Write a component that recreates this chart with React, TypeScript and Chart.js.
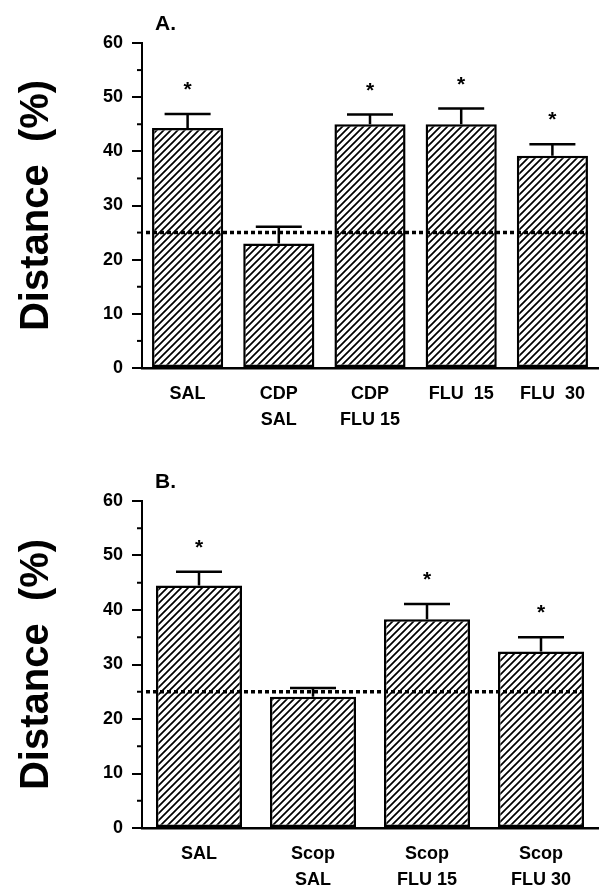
import React, { useEffect, useRef } from "react";
import { Chart, registerables } from "chart.js";

Chart.register(...registerables);

// ---- Data ----
const categoriesA: (string | string[])[] = ["SAL", ["CDP", "SAL"], ["CDP", "FLU 15"], "FLU  15", "FLU  30"];
const valuesA = [44.3, 23.0, 45.0, 45.0, 39.2];
const semA = [2.6, 3.1, 1.8, 2.9, 2.1];
const sigA = [true, false, true, true, true];

const categoriesB: (string | string[])[] = ["SAL", ["Scop", "SAL"], ["Scop", "FLU 15"], ["Scop", "FLU 30"]];
const valuesB = [44.5, 24.1, 38.3, 32.4];
const semB = [2.5, 1.6, 2.8, 2.6];
const sigB = [true, false, true, true];

const yTicks = [0, 10, 20, 30, 40, 50, 60];
const yMinorTicks = [5, 15, 25, 35, 45, 55];
const chanceLevel = 25;
const yTitle = "Distance  (%)";

const FONT = '"Liberation Sans", Arial, sans-serif';

function makeHatch(): CanvasPattern | string {
  const s = 7;
  const c = document.createElement("canvas");
  c.width = s;
  c.height = s;
  const g = c.getContext("2d");
  if (!g) return "#fff";
  g.fillStyle = "#fff";
  g.fillRect(0, 0, s, s);
  g.strokeStyle = "#000";
  g.lineWidth = 1.7;
  g.beginPath();
  g.moveTo(-1, s + 1);
  g.lineTo(s + 1, -1);
  g.moveTo(-2, 2);
  g.lineTo(2, -2);
  g.moveTo(s - 2, s + 2);
  g.lineTo(s + 2, s - 2);
  g.stroke();
  return g.createPattern(c, "repeat") || "#fff";
}

type PanelProps = {
  label: string;
  categories: (string | string[])[];
  values: number[];
  sem: number[];
  sig: boolean[];
  height: number;
  topPad: number;
  axisBottom: number;
  barPct: number;
};

function Panel(p: PanelProps) {
  const ref = useRef<HTMLCanvasElement | null>(null);
  useEffect(() => {
    if (!ref.current) return;
    const overlay = {
      id: "overlay",
      afterDatasetsDraw(chart: any) {
        const ctx = chart.ctx as CanvasRenderingContext2D;
        const y = chart.scales.y;
        const area = chart.chartArea;
        const meta = chart.getDatasetMeta(0);
        ctx.save();
        ctx.strokeStyle = "#000";
        ctx.fillStyle = "#000";
        // minor ticks
        ctx.lineWidth = 2;
        for (const v of yMinorTicks) {
          const py = y.getPixelForValue(v);
          ctx.beginPath();
          ctx.moveTo(area.left - 5, py);
          ctx.lineTo(area.left, py);
          ctx.stroke();
        }
        // error bars + asterisks
        ctx.lineWidth = 2.5;
        meta.data.forEach((el: any, i: number) => {
          const top = y.getPixelForValue(p.values[i] + p.sem[i]);
          ctx.beginPath();
          ctx.moveTo(el.x, el.y);
          ctx.lineTo(el.x, top);
          ctx.moveTo(el.x - 23, top);
          ctx.lineTo(el.x + 23, top);
          ctx.stroke();
          if (p.sig[i]) {
            ctx.font = `bold 21px ${FONT}`;
            ctx.textAlign = "center";
            ctx.textBaseline = "alphabetic";
            ctx.fillText("*", el.x, top - 30 + 12);
          }
        });
        // chance line
        const py = y.getPixelForValue(chanceLevel);
        const last = meta.data[meta.data.length - 1];
        ctx.setLineDash([4, 3]);
        ctx.lineWidth = 3.5;
        ctx.beginPath();
        ctx.moveTo(area.left + 4, py);
        ctx.lineTo(last.x + last.width / 2, py);
        ctx.stroke();
        ctx.setLineDash([]);
        // panel label
        ctx.font = `bold 21px ${FONT}`;
        ctx.textAlign = "left";
        ctx.textBaseline = "alphabetic";
        ctx.fillText(p.label, area.left + 13, area.top - 13);
        ctx.restore();
      },
    };
    const chart = new Chart(ref.current, {
      type: "bar",
      data: {
        labels: p.categories as any,
        datasets: [
          {
            data: p.values,
            backgroundColor: makeHatch() as any,
            borderColor: "#000",
            borderWidth: 2.5,
            borderSkipped: false,
            barPercentage: p.barPct,
            categoryPercentage: 1,
          },
        ],
      },
      options: {
        animation: false,
        responsive: false,
        layout: { padding: { top: p.topPad, right: 2, left: 0, bottom: 0 } },
        plugins: { legend: { display: false }, tooltip: { enabled: false } },
        scales: {
          x: {
            grid: { display: false },
            border: { display: true, color: "#000", width: 2.5 },
            ticks: {
              color: "#000",
              font: { family: FONT, weight: "bold", size: 18, lineHeight: 1.45 },
              padding: 4.5,
              maxRotation: 0,
              autoSkip: false,
            },
            afterFit: (s: any) => {
              s.height = p.height - p.axisBottom;
            },
          },
          y: {
            min: 0,
            max: 60,
            afterBuildTicks: (s: any) => {
              s.ticks = yTicks.map((v) => ({ value: v }));
            },
            grid: {
              display: true,
              drawOnChartArea: false,
              drawTicks: true,
              tickLength: 10,
              color: "#000",
              lineWidth: 2,
            },
            border: { display: true, color: "#000", width: 2 },
            ticks: {
              color: "#000",
              font: { family: FONT, weight: "bold", size: 18 },
              padding: 9,
            },
            title: {
              display: true,
              text: yTitle,
              color: "#000",
              font: { family: FONT, weight: "bold", size: 40, lineHeight: 1.2 },
              padding: { top: 13, bottom: 0 },
            },
            afterFit: (s: any) => {
              s.width = 142;
            },
          },
        },
      },
      plugins: [overlay],
    });
    return () => chart.destroy();
  }, []);
  return (
    <canvas
      ref={ref}
      width={600}
      height={p.height}
      style={{ display: "block", width: 600, height: p.height }}
    />
  );
}

export default function App() {
  return (
    <div style={{ position: "absolute", left: 0, top: 0, width: 600, height: 890, background: "#fff" }}>
      <Panel
        label="A."
        categories={categoriesA}
        values={valuesA}
        sem={semA}
        sig={sigA}
        height={440}
        topPad={43}
        axisBottom={368}
        barPct={0.78}
      />
      <Panel
        label="B."
        categories={categoriesB}
        values={valuesB}
        sem={semB}
        sig={sigB}
        height={450}
        topPad={61}
        axisBottom={388}
        barPct={0.755}
      />
    </div>
  );
}
